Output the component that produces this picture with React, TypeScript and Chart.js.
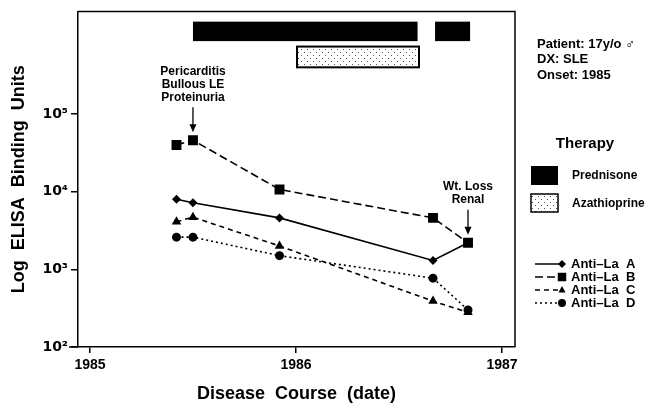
import React, { useEffect, useRef } from 'react';
import { Chart, registerables } from 'chart.js';

Chart.register(...registerables);

const dates = [1985.42, 1985.5, 1985.92, 1986.665, 1986.835];
const antiLaA = [8000, 7200, 4600, 1300, 2200];
const antiLaB = [40000, 46000, 10700, 4600, 2200];
const antiLaC = [4100, 4700, 2000, 390, 280];
const antiLaD = [2600, 2600, 1500, 770, 300];
const seriesNames = ['Anti\u2013La  A', 'Anti\u2013La  B', 'Anti\u2013La  C', 'Anti\u2013La  D'];
const xTicks = [1985, 1986, 1987];
const yTicks = [100, 1000, 10000, 100000];
const yTickLabels = ['10\u00b2', '10\u00b3', '10\u2074', '10\u2075'];
const prednisoneStart = [1985.5, 1986.675];
const prednisoneEnd = [1986.59, 1986.845];
const azathioprineStart = [1986.005];
const azathioprineEnd = [1986.597];
const eventDates = [1985.5, 1986.835];
const eventLabels = [['Pericarditis', 'Bullous LE', 'Proteinuria'], ['Wt. Loss', 'Renal']];
const patientInfo = ['Patient: 17y/o \u2642', 'DX: SLE', 'Onset: 1985'];
const therapyNames = ['Prednisone', 'Azathioprine'];

const FONT = '"Liberation Sans", Arial, sans-serif';
const dashes = [[], [8, 4], [5, 4], [2, 3]];
const shapes = ['rectRot', 'rect', 'triangle', 'circle'];
const radii = [4.5, 7, 5.5, 4.5];

function makeDotPattern(ctx: CanvasRenderingContext2D) {
  const c = document.createElement('canvas');
  c.width = 6;
  c.height = 6;
  const p = c.getContext('2d')!;
  p.fillStyle = '#fff';
  p.fillRect(0, 0, 6, 6);
  p.fillStyle = '#555';
  p.fillRect(1, 1, 1, 1);
  p.fillRect(4, 4, 1, 1);
  return ctx.createPattern(c, 'repeat');
}

function drawMarker(ctx: CanvasRenderingContext2D, shape: string, x: number, y: number, r: number) {
  ctx.beginPath();
  if (shape === 'rectRot') {
    ctx.moveTo(x, y - r);
    ctx.lineTo(x + r, y);
    ctx.lineTo(x, y + r);
    ctx.lineTo(x - r, y);
    ctx.closePath();
  } else if (shape === 'rect') {
    const s = r * Math.SQRT1_2;
    ctx.rect(x - s, y - s, 2 * s, 2 * s);
  } else if (shape === 'triangle') {
    ctx.moveTo(x, y - r);
    ctx.lineTo(x + r * 0.9, y + r * 0.6);
    ctx.lineTo(x - r * 0.9, y + r * 0.6);
    ctx.closePath();
  } else {
    ctx.arc(x, y, r, 0, Math.PI * 2);
  }
  ctx.fillStyle = '#000';
  ctx.fill();
}

const decorPlugin = {
  id: 'decor',
  afterDatasetsDraw(chart: any) {
    const { ctx, chartArea, scales } = chart;
    const xs = scales.x;
    const ys = scales.y;
    ctx.save();
    // frame
    ctx.strokeStyle = '#000';
    ctx.lineWidth = 1.5;
    ctx.beginPath();
    ctx.moveTo(chartArea.left, chartArea.top);
    ctx.lineTo(chartArea.right, chartArea.top);
    ctx.lineTo(chartArea.right, chartArea.bottom);
    ctx.stroke();
    // x axis line extends slightly left of y axis
    ctx.beginPath();
    ctx.moveTo(chartArea.left - 9, chartArea.bottom);
    ctx.lineTo(chartArea.left, chartArea.bottom);
    ctx.stroke();

    // therapy bars
    const pTop = ys.getPixelForValue(1.55e6);
    const pBot = ys.getPixelForValue(8.7e5);
    ctx.fillStyle = '#000';
    prednisoneStart.forEach((s, i) => {
      const x0 = xs.getPixelForValue(s);
      const x1 = xs.getPixelForValue(prednisoneEnd[i]);
      ctx.fillRect(x0, pTop, x1 - x0, pBot - pTop);
    });
    const aTop = ys.getPixelForValue(7.4e5);
    const aBot = ys.getPixelForValue(4.0e5);
    const pat = makeDotPattern(ctx);
    azathioprineStart.forEach((s, i) => {
      const x0 = xs.getPixelForValue(s);
      const x1 = xs.getPixelForValue(azathioprineEnd[i]);
      ctx.fillStyle = pat || '#eee';
      ctx.fillRect(x0, aTop, x1 - x0, aBot - aTop);
      ctx.lineWidth = 2;
      ctx.strokeStyle = '#000';
      ctx.strokeRect(x0, aTop, x1 - x0, aBot - aTop);
    });

    // event annotations
    ctx.font = `bold 12px ${FONT}`;
    ctx.textAlign = 'center';
    ctx.textBaseline = 'middle';
    eventDates.forEach((d, i) => {
      const x = xs.getPixelForValue(d);
      const idx = dates.indexOf(d);
      const tip = ys.getPixelForValue(antiLaB[idx]) - 8;
      const top = tip - 25;
      ctx.strokeStyle = '#000';
      ctx.lineWidth = 1.3;
      ctx.beginPath();
      ctx.moveTo(x, top);
      ctx.lineTo(x, tip - 5);
      ctx.stroke();
      ctx.beginPath();
      ctx.moveTo(x, tip);
      ctx.lineTo(x - 3.5, tip - 8);
      ctx.lineTo(x + 3.5, tip - 8);
      ctx.closePath();
      ctx.fillStyle = '#000';
      ctx.fill();
      const lines = eventLabels[i];
      lines.forEach((t, j) => {
        ctx.fillText(t, x, top - 10 - (lines.length - 1 - j) * 13);
      });
    });
    ctx.restore();
  },
  afterDraw(chart: any) {
    const { ctx } = chart;
    ctx.save();
    ctx.fillStyle = '#000';
    ctx.textBaseline = 'middle';
    ctx.textAlign = 'left';
    ctx.font = `bold 13px ${FONT}`;
    patientInfo.forEach((t, i) => ctx.fillText(t, 537, 44 + i * 15.5));

    ctx.font = `bold 15px ${FONT}`;
    ctx.textAlign = 'center';
    ctx.fillText('Therapy', 585, 144);

    ctx.textAlign = 'left';
    ctx.font = `bold 12px ${FONT}`;
    // prednisone
    ctx.fillStyle = '#000';
    ctx.fillRect(531, 166, 27, 19);
    ctx.fillText(therapyNames[0], 572, 175.5);
    // azathioprine
    const pat = makeDotPattern(ctx);
    ctx.fillStyle = pat || '#eee';
    ctx.fillRect(531, 194, 27, 18);
    ctx.strokeStyle = '#000';
    ctx.lineWidth = 1.5;
    ctx.strokeRect(531, 194, 27, 18);
    ctx.fillStyle = '#000';
    ctx.fillText(therapyNames[1], 572, 203.5);

    // series legend
    ctx.font = `bold 13px ${FONT}`;
    seriesNames.forEach((name, i) => {
      const y = 264 + i * 13;
      ctx.strokeStyle = '#000';
      ctx.lineWidth = 1.5;
      ctx.setLineDash(dashes[i]);
      ctx.beginPath();
      ctx.moveTo(535, y);
      ctx.lineTo(561, y);
      ctx.stroke();
      ctx.setLineDash([]);
      drawMarker(ctx, shapes[i], 562, y, i === 1 ? 6 : 4);
      ctx.fillStyle = '#000';
      ctx.fillText(name, 571, y + 0.5);
    });
    ctx.restore();
  },
};

export default function App() {
  const ref = useRef<HTMLCanvasElement>(null);
  useEffect(() => {
    document.body.style.margin = '0';
    const series = [antiLaA, antiLaB, antiLaC, antiLaD];
    const chart = new Chart(ref.current!, {
      type: 'line',
      data: {
        datasets: series.map((vals, i) => ({
          label: seriesNames[i],
          data: vals.map((v, j) => ({ x: dates[j], y: v })),
          borderColor: '#000',
          backgroundColor: '#000',
          borderWidth: 1.6,
          borderDash: dashes[i],
          pointStyle: shapes[i] as any,
          pointRadius: radii[i],
          pointBackgroundColor: '#000',
          pointBorderColor: '#000',
          pointBorderWidth: 0,
          tension: 0,
          fill: false,
        })),
      },
      options: {
        animation: false,
        responsive: false,
        devicePixelRatio: 1,
        layout: { padding: { top: 10, right: 135, left: 0, bottom: 0 } },
        plugins: { legend: { display: false }, tooltip: { enabled: false } },
        scales: {
          x: {
            type: 'linear',
            min: 1984.942,
            max: 1987.063,
            afterBuildTicks: (s: any) => {
              s.ticks = xTicks.map((v) => ({ value: v }));
            },
            afterFit: (s: any) => {
              s.height = 58;
            },
            ticks: {
              callback: (v: any) => String(v),
              color: '#000',
              font: { family: FONT, size: 14, weight: 'bold' },
              padding: 4,
              maxRotation: 0,
            },
            grid: {
              display: true,
              drawOnChartArea: false,
              drawTicks: true,
              tickLength: 6,
              color: '#000',
              lineWidth: 1.5,
            },
            border: { display: true, color: '#000', width: 1.5 },
            title: {
              display: true,
              text: 'Disease  Course  (date)',
              color: '#000',
              font: { family: FONT, size: 18, weight: 'bold' },
              padding: { top: 4, bottom: 0 },
            },
          },
          y: {
            type: 'logarithmic',
            min: 100,
            max: 2.1e6,
            afterBuildTicks: (s: any) => {
              s.ticks = yTicks.map((v) => ({ value: v }));
            },
            afterFit: (s: any) => {
              s.width = 78;
            },
            ticks: {
              callback: (v: any) => {
                const i = yTicks.indexOf(Number(v));
                return i >= 0 ? yTickLabels[i] : '';
              },
              color: '#000',
              font: { family: '"DejaVu Sans", sans-serif', size: 14, weight: 'bold' },
              padding: 3,
            },
            grid: {
              display: true,
              drawOnChartArea: false,
              drawTicks: true,
              tickLength: 7,
              color: '#000',
              lineWidth: 1.5,
            },
            border: { display: true, color: '#000', width: 1.5 },
            title: {
              display: true,
              text: 'Log  ELISA  Binding  Units',
              color: '#000',
              font: { family: FONT, size: 18, weight: 'bold' },
              padding: { top: 8, bottom: 0 },
            },
          },
        },
      },
      plugins: [decorPlugin],
    });
    return () => chart.destroy();
  }, []);
  return (
    <div style={{ width: 650, height: 405 }}>
      <canvas ref={ref} width={650} height={405} style={{ display: 'block' }} />
    </div>
  );
}
